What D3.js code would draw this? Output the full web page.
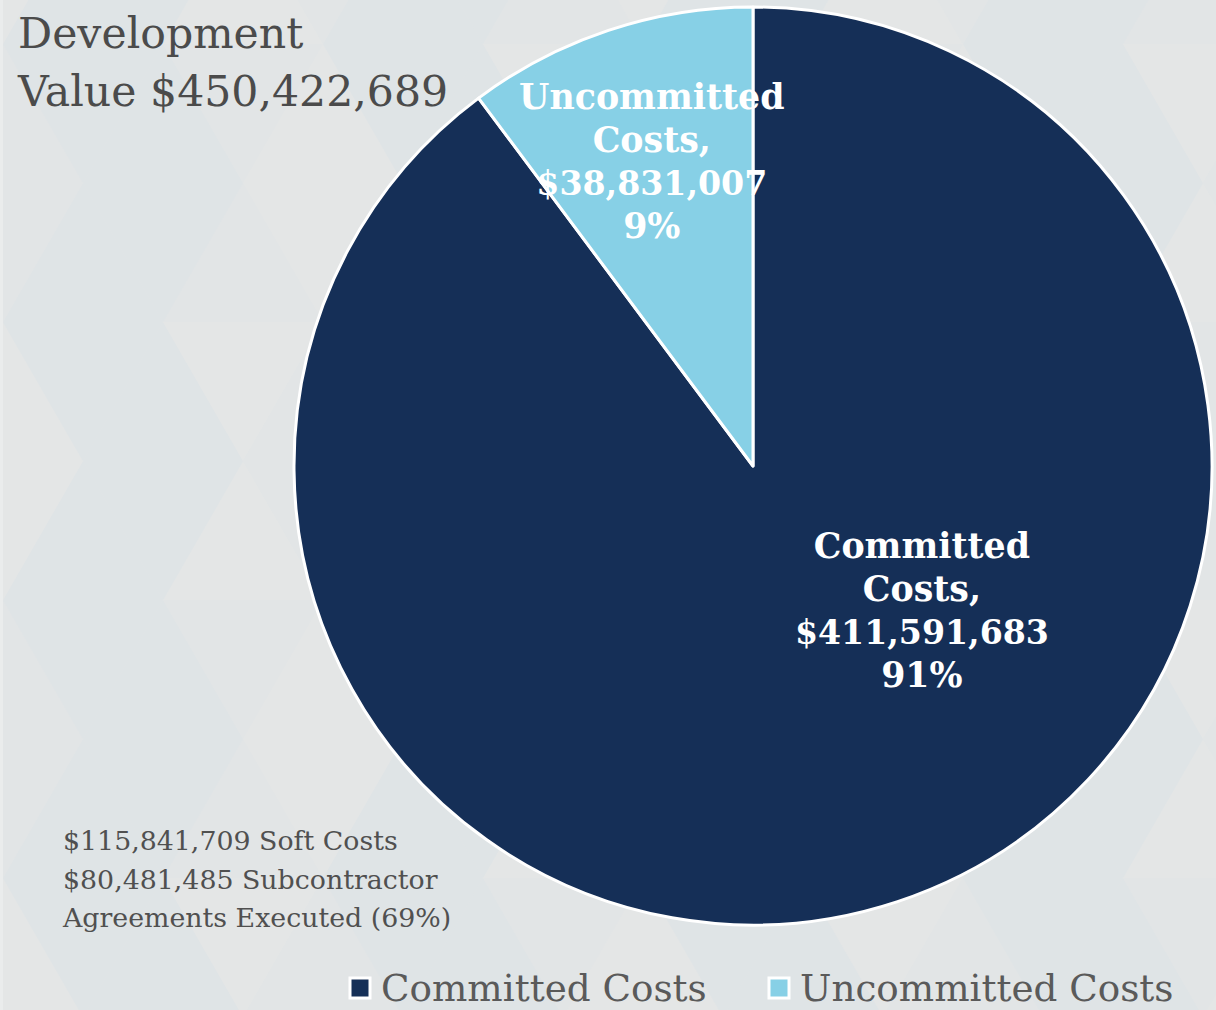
<!DOCTYPE html>
<html>
<head>
<meta charset="utf-8">
<script src="https://cdn.jsdelivr.net/npm/d3@7"></script>
<style>
  html, body { margin: 0; padding: 0; background: #e0e5e7; }
  svg { display: block; }
</style>
</head>
<body>
<script>
// ---- data ----
const categories = ["Committed Costs", "Uncommitted Costs"];
// share of the pie as drawn (percent)
const sliceShare = [89.8, 10.2];
const amountLabels = ["$411,591,683", "$38,831,007"];
const percentLabels = ["91%", "9%"];
const titleLines = ["Development", "Value $450,422,689"];
const noteLines = ["$115,841,709 Soft Costs", "$80,481,485 Subcontractor", "Agreements Executed (69%)"];
const colors = ["#152f57", "#87d0e6"];

const W = 1216, H = 1010;
const svg = d3.select("body").append("svg").attr("width", W).attr("height", H);

// ---- background triangle pattern (decoration) ----
const bg = svg.append("g");
bg.append("rect").attr("width", W).attr("height", H).attr("fill", "#e0e5e7");
const side = 160, th = 139, y0 = 44;
const tones = ["#dfe4e6", "#e4e6e6", "#dfe4e6", "#e2e5e6"];
for (let k = -1; k < 8; k++) {
  const yt = y0 + th * (k - 1), yb = y0 + th * k;
  const offTop = (((k - 1) % 2) + 2) % 2 === 0 ? 3 : 83;
  const offBot = ((k % 2) + 2) % 2 === 0 ? 3 : 83;
  for (let m = -2; m < 10; m++) {
    const ax = offTop + side * m;
    const up = [[ax, yt], [ax - side / 2, yb], [ax + side / 2, yb]];
    const bx = offBot + side * m;
    const down = [[bx, yb], [bx - side / 2, yt], [bx + side / 2, yt]];
    const t1 = tones[Math.abs((k * 3 + m * 5) % 4)];
    const t2 = tones[Math.abs((k * 7 + m * 3 + 1) % 4)];
    bg.append("path").attr("d", d3.line()(up) + "Z").attr("fill", t1);
    bg.append("path").attr("d", d3.line()(down) + "Z").attr("fill", t2);
  }
}
bg.append("rect").attr("x", 0).attr("y", 0).attr("width", 3).attr("height", H).attr("fill", "#eaecec");

// ---- pie ----
const cx = 753, cy = 466, R = 459;
const pie = d3.pie().sort(null).value(d => d)(sliceShare);
const arc = d3.arc().innerRadius(0).outerRadius(R);
const g = svg.append("g").attr("transform", `translate(${cx},${cy})`);
g.selectAll("path.slice").data(pie).join("path")
  .attr("class", "slice")
  .attr("d", arc)
  .attr("fill", (d, i) => colors[i])
  .attr("stroke", "#ffffff")
  .attr("stroke-width", 3)
  .attr("stroke-linejoin", "round");

// ---- data labels ----
const labelFont = "'DejaVu Serif', serif";
const labelArc = d3.arc().innerRadius(R * 0.70).outerRadius(R * 0.70);
function labelPos(d, i) {
  if (i === 1) { const c = labelArc.centroid(d); return [c[0], c[1]]; }
  return [R * 0.368, R * 0.313];
}
const lblSize = 34.8, lblGap = 43;
pie.forEach((d, i) => {
  const [lx, ly] = labelPos(d, i);
  const lines = [categories[i].split(" ")[0], categories[i].split(" ")[1] + ",", amountLabels[i], percentLabels[i]];
  const t = g.append("text")
    .attr("text-anchor", "middle")
    .attr("font-family", labelFont)
    .attr("font-weight", "bold")
    .attr("font-size", lblSize)
    .attr("fill", "#ffffff");
  lines.forEach((s, j) => {
    t.append("tspan").attr("x", lx).attr("y", ly + (j - 1.5) * lblGap + lblSize * 0.36)
      .attr("font-size", j === 2 ? 33.2 : lblSize).text(s);
  });
});

// ---- title ----
const title = svg.append("text")
  .attr("font-family", labelFont)
  .attr("font-size", 42.6)
  .attr("fill", "#4b4b4b");
titleLines.forEach((s, j) => title.append("tspan").attr("x", 18).attr("y", 48 + j * 58).text(s));

// ---- note ----
const note = svg.append("text")
  .attr("font-family", labelFont)
  .attr("font-size", 26.8)
  .attr("fill", "#505050");
noteLines.forEach((s, j) => note.append("tspan").attr("x", 63).attr("y", 850 + j * 38.5).text(s));

// ---- legend ----
const legX = [350, 769];
const leg = svg.append("g");
categories.forEach((c, i) => {
  leg.append("rect").attr("x", legX[i]).attr("y", 978).attr("width", 20).attr("height", 20)
    .attr("fill", colors[i]).attr("stroke", "#ffffff").attr("stroke-width", 3);
  leg.append("text").attr("x", legX[i] + 31).attr("y", 1001)
    .attr("font-family", labelFont).attr("font-size", 37.3).attr("fill", "#5a5a5a").text(c);
});
</script>
</body>
</html>
